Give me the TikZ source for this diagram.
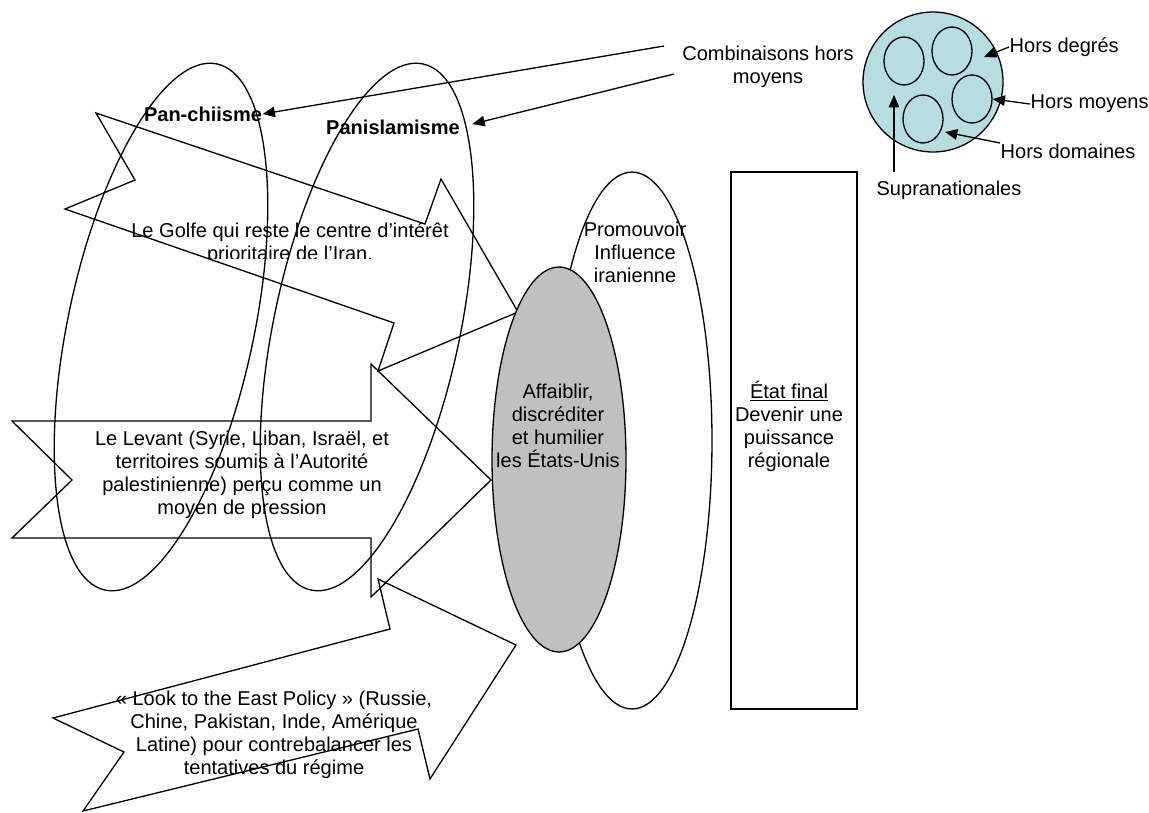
\documentclass[tikz,border=0pt]{standalone}
\usepackage{fontspec}
\setmainfont{Liberation Sans}
\usetikzlibrary{shapes.geometric, arrows.meta, positioning}

\definecolor{supracyan}{RGB}{183,221,224}
\definecolor{usgray}{RGB}{192,192,192}

\begin{document}
\begin{tikzpicture}[x=0.02cm, y=-0.02cm, line width=0.75pt,
    txt/.style={align=center, inner sep=0pt, font=\fontsize{11.4}{13.1}\selectfont},
    boldtxt/.style={txt, font=\fontsize{11.4}{13.1}\selectfont\bfseries},
    ptr/.style={-{Triangle[length=7pt,width=6pt]}},
    blockarrow/.style={draw, line join=miter},
    petit/.style={draw, ellipse, minimum width=0.8cm, minimum height=0.96cm, inner sep=0pt}]
        \useasboundingbox (0,0) rectangle (1149,812);

        % Tilted ellipses
        \node[draw, ellipse, rotate=-12, minimum width=3.72cm, minimum height=10.76cm, inner sep=0pt] (panchi) at (161,327) {};
        \node[draw, ellipse, rotate=-12, minimum width=3.72cm, minimum height=10.76cm, inner sep=0pt] (panis) at (367,327) {};
        \node[boldtxt] (panchi-lbl) at (203,114) {Pan-chiisme};
        \node[boldtxt] (panis-lbl) at (393,127) {Panislamisme};

        % Block arrows
        \draw[blockarrow] (96,113) -- (425,224) -- (441,179) -- (518,312) -- (378,371) -- (394,323) -- (65,209) -- (135,180) -- cycle;
        \draw[blockarrow] (12,421) -- (371,421) -- (371,364) -- (491,480) -- (371,597) -- (371,538) -- (12,538) -- (72,480) -- cycle;
        \draw[blockarrow] (53,718) -- (390,629) -- (378,579) -- (516,645) -- (430,779) -- (418,729) -- (83,811) -- (124,752) -- cycle;

        \begin{scope}
            \clip (100,200) rectangle (480,258);
            \node[txt] (golfe) at (290,244) {Le Golfe qui reste le centre d’intérêt\\prioritaire de l’Iran.};
        \end{scope}
        \node[txt] (levant) at (242,475) {Le Levant (Syrie, Liban, Israël, et\\territoires soumis à l’Autorité\\palestinienne) perçu comme un\\moyen de pression};
        \node[txt] (look) at (274,735) {« Look to the East Policy » (Russie,\\Chine, Pakistan, Inde, Amérique\\Latine) pour contrebalancer les\\tentatives du régime};

        % Centre
        \node[draw, ellipse, minimum width=3.2cm, minimum height=10.74cm, inner sep=0pt] (promo) at (632,440.5) {};
        \node[txt] (promo-lbl) at (635,252) {Promouvoir\\Influence\\iranienne};
        \node[draw, fill=usgray, ellipse, minimum width=2.68cm, minimum height=7.7cm, inner sep=0pt] (affaib) at (559,459.5) {};
        \node[txt] (affaib-lbl) at (558,426) {Affaiblir,\\discréditer\\et humilier\\les États-Unis};

        % End state
        \node[draw, minimum width=2.52cm, minimum height=10.74cm, inner sep=0pt] (etat) at (794,440.5) {};
        \node[txt] (etat-lbl) at (789,426) {\underline{État final}\\Devenir une\\puissance\\régionale};

        % Combinations
        \node[txt] (combi) at (768,67) {Combinaisons hors\\moyens};
        \coordinate (combi-a) at (664,46);
        \coordinate (combi-b) at (674,74);
        \draw[ptr] (combi-a) -- (panchi-lbl.east);
        \draw[ptr, shorten >=7pt] (combi-b) -- (panis-lbl.east);

        % Circle
        \node[draw, fill=supracyan, circle, minimum size=2.8cm, inner sep=0pt] (supra) at (933,82) {};
        \node[petit] (s1) at (904,61) {};
        \node[petit] (s2) at (952,51) {};
        \node[petit] (s3) at (972,99) {};
        \node[petit] (s4) at (923,119) {};

        \node[txt, anchor=west] (degres) at (1009,47) {Hors degrés};
        \node[txt, anchor=west] (hmoy) at (1030,104) {Hors moyens};
        \node[txt, anchor=west] (hdom) at (1000,151) {Hors domaines};
        \node[txt] (supra-lbl) at (949,190) {Supranationales};
        \coordinate (degres-tip) at (984,57);
        \coordinate (hdom-tip) at (945,132);
        \coordinate (supra-a) at (894,172);
        \coordinate (supra-tip) at (894,95);
        \draw[ptr] (degres.west) -- (degres-tip);
        \draw[ptr] (hmoy.west) -- (s3.east);
        \draw[ptr] (hdom.north west) -- (hdom-tip);
        \draw[ptr] (supra-a) -- (supra-tip);
    \end{tikzpicture}
\end{document}
